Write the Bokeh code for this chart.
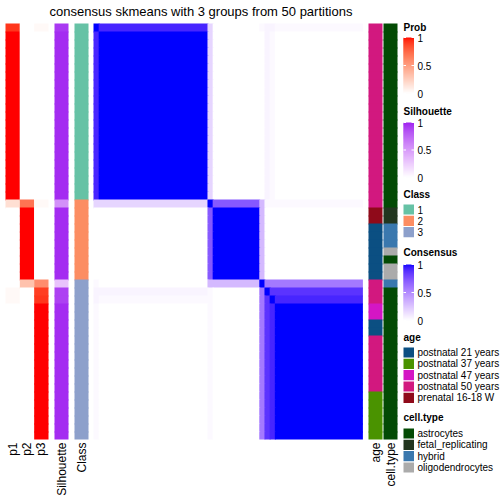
import math
from bokeh.plotting import figure
from bokeh.models import Range1d
from bokeh.embed import file_html
from bokeh.resources import INLINE
from bokeh.core.properties import value

FONT = "Liberation Sans"
TITLE = "consensus skmeans with 3 groups from 50 partitions"

# ---------------- data (rows in display order, 52 samples) ----------------
p1_runs = [(0.92, 1), (1.0, 21), (0.17, 1), (0.0, 10), (0.03, 2), (0.0, 17)]
p2_runs = [(0.0, 22), (0.70, 1), (1.0, 9), (0.32, 1), (0.0, 19)]
p3_runs = [(0.03, 1), (0.0, 21), (0.03, 1), (0.0, 9), (0.58, 1), (0.90, 1), (0.92, 1), (1.0, 17)]
sil_runs = [(0.93, 1), (0.97, 21), (0.55, 1), (0.97, 9), (0.30, 1), (0.90, 2), (0.97, 17)]
class_runs = [(1, 22), (2, 10), (3, 20)]
age_runs = [("postnatal 50 years", 23), ("prenatal 16-18 W", 2), ("postnatal 21 years", 7),
            ("postnatal 50 years", 3), ("postnatal 47 years", 2), ("postnatal 21 years", 2),
            ("postnatal 50 years", 7), ("postnatal 37 years", 6)]
cell_runs = [("astrocytes", 23), ("fetal_replicating", 2), ("hybrid", 3), ("oligodendrocytes", 1),
             ("astrocytes", 1), ("oligodendrocytes", 2), ("hybrid", 1), ("astrocytes", 19)]

age_levels = ["postnatal 21 years", "postnatal 37 years", "postnatal 47 years",
              "postnatal 50 years", "prenatal 16-18 W"]
age_colors = ["#0B4F82", "#4A9300", "#D416C4", "#D2187F", "#8F0A1A"]
cell_levels = ["astrocytes", "fetal_replicating", "hybrid", "oligodendrocytes"]
cell_colors = ["#034A04", "#22361F", "#3A78AE", "#ABABAB"]
class_levels = [1, 2, 3]
class_colors = ["#66C2A5", "#FC8D62", "#8DA0CB"]

# consensus matrix, one string per row; codes -> values
cons_codes = {".": 0.0, "a": 0.025, "b": 0.045, "c": 0.18, "d": 0.30, "e": 0.58,
              "f": 0.72, "g": 0.87, "h": 0.92, "#": 1.0}
R_G1 = "h#### ##### ##### ##### ##|c|..... ....|.|b|a|..... ..... ..... .."
R_G2 = "..... ..... ..... ..... ..|f|##### ####|d|.|.|..... ..... ..... .."
R_G3 = "a.... ..... ..... ..... ..|a|..... ....|e|g|h|##### ##### ##### ##"
cons_rows = [
    "#hhhh hhhhh hhhhh hhhhh hh|c|..... ....|a|b|b|aaaaa aaaaa aaaaa aa",
    R_G1, R_G1, R_G1, R_G1, R_G1, R_G1, R_G1, R_G1, R_G1, R_G1,
    R_G1, R_G1, R_G1, R_G1, R_G1, R_G1, R_G1, R_G1, R_G1, R_G1, R_G1,
    "ccccc ccccc ccccc ccccc cc|#|fffff ffff|d|a|a|aaaaa aaaaa aaaaa aa",
    R_G2, R_G2, R_G2, R_G2, R_G2, R_G2, R_G2, R_G2, R_G2,
    "a.... ..... ..... ..... ..|d|ddddd dddd|#|e|e|eeeee eeeee eeeee ee",
    "bbbbb bbbbb bbbbb bbbbb bb|a|..... ....|e|#|g|ggggg ggggg ggggg gg",
    "baaaa aaaaa aaaaa aaaaa aa|a|..... ....|e|g|#|hhhhh hhhhh hhhhh hh",
    R_G3, R_G3, R_G3, R_G3, R_G3, R_G3, R_G3, R_G3, R_G3, R_G3,
    R_G3, R_G3, R_G3, R_G3, R_G3, R_G3, R_G3,
]


def expand(runs):
    out = []
    for v, n in runs:
        out += [v] * n
    return out


p1, p2, p3, sil = expand(p1_runs), expand(p2_runs), expand(p3_runs), expand(sil_runs)
cls, age, cell = expand(class_runs), expand(age_runs), expand(cell_runs)
cons = [[cons_codes[c] for c in r.replace(" ", "").replace("|", "")] for r in cons_rows]
N = len(cons)
assert all(len(r) == N for r in cons), [len(r) for r in cons]
assert len(p1) == len(p2) == len(p3) == len(sil) == len(cls) == len(age) == len(cell) == N


# ---------------- colour ramps (LAB interpolation) ----------------
def hex2rgb(h):
    h = h.lstrip("#")
    return [int(h[i:i + 2], 16) / 255 for i in (0, 2, 4)]


def rgb2lab(rgb):
    lin = [c / 12.92 if c <= 0.04045 else ((c + 0.055) / 1.055) ** 2.4 for c in rgb]
    r, g, b = lin
    X_ = (0.4124 * r + 0.3576 * g + 0.1805 * b) / 0.95047
    Yv = (0.2126 * r + 0.7152 * g + 0.0722 * b)
    Z = (0.0193 * r + 0.1192 * g + 0.9505 * b) / 1.08883
    f = lambda t: t ** (1 / 3) if t > 0.008856 else 7.787 * t + 16 / 116
    fx, fy, fz = f(X_), f(Yv), f(Z)
    return [116 * fy - 16, 500 * (fx - fy), 200 * (fy - fz)]


def lab2hex(lab):
    L, a, b = lab
    fy = (L + 16) / 116
    fx = fy + a / 500
    fz = fy - b / 200
    finv = lambda t: t ** 3 if t ** 3 > 0.008856 else (t - 16 / 116) / 7.787
    X_, Yv, Z = finv(fx) * 0.95047, finv(fy), finv(fz) * 1.08883
    r = 3.2406 * X_ - 1.5372 * Yv - 0.4986 * Z
    g = -0.9689 * X_ + 1.8758 * Yv + 0.0415 * Z
    bb = 0.0557 * X_ - 0.2040 * Yv + 1.0570 * Z
    out = []
    for c in (r, g, bb):
        c = min(max(c, 0), 1)
        c = 12.92 * c if c <= 0.0031308 else 1.055 * c ** (1 / 2.4) - 0.055
        out.append(int(round(min(max(c, 0), 1) * 255)))
    return "#%02X%02X%02X" % tuple(out)


def ramp(c0, c1):
    l0, l1 = rgb2lab(hex2rgb(c0)), rgb2lab(hex2rgb(c1))

    def f(v):
        v = min(max(v, 0.0), 1.0)
        return lab2hex([a + (b - a) * v for a, b in zip(l0, l1)])
    return f


prob_col = ramp("#FFFFFF", "#FF0000")
sil_col = ramp("#FFFFFF", "#A020F0")
cons_col = ramp("#FFFFFF", "#0000FF")

# ---------------- layout (page pixels) ----------------
HM_L, HM_R, HM_T, ROW_H = 93.0, 362.4, 23.0, 8.0
CW = (HM_R - HM_L) / N
OVX, OVY = 0.9 / CW, 0.9 / ROW_H   # small overlap to avoid anti-aliasing seams


def X(px):
    return (px - HM_L) / CW


def Y(py):
    return (py - HM_T) / ROW_H


p = figure(width=504, height=504, x_range=Range1d(X(0), X(504)), y_range=Range1d(Y(504), Y(0)),
           output_backend="svg", toolbar_location=None, min_border=0,
           x_axis_type=None, y_axis_type=None)
p.grid.visible = False
p.outline_line_color = None
p.background_fill_color = "white"
p.border_fill_color = "white"

# heatmap: consecutive equal cells of a row merged into one rectangle
hx, hy, hw, hh, hc = [], [], [], [], []
for i in range(N):
    j = 0
    while j < N:
        k = j
        while k + 1 < N and cons[i][k + 1] == cons[i][j]:
            k += 1
        extra_w = OVX if k + 1 < N else 0.0
        extra_h = OVY if i + 1 < N else 0.0
        hx.append((j + k + 1 + extra_w) / 2)
        hw.append(k + 1 - j + extra_w)
        hy.append(i + 0.5 + extra_h / 2)
        hh.append(1 + extra_h)
        hc.append(cons_col(cons[i][j]))
        j = k + 1
p.rect(x=hx, y=hy, width=hw, height=hh, fill_color=hc, line_color=None)

rows_y = [i + 0.5 for i in range(N)]


def ann_column(l, r, colors):
    ys = [y + (OVY / 2 if i + 1 < N else 0) for i, y in enumerate(rows_y)]
    hs = [1 + (OVY if i + 1 < N else 0) for i in range(N)]
    p.rect(x=[X((l + r) / 2)] * N, y=ys, width=(r - l) / CW, height=hs,
           fill_color=colors, line_color=None)


ann_column(5.0, 19.33, [prob_col(v) for v in p1])
ann_column(19.33, 33.67, [prob_col(v) for v in p2])
ann_column(33.67, 48.0, [prob_col(v) for v in p3])
ann_column(54.0, 68.0, [sil_col(v) for v in sil])
ann_column(74.0, 88.0, [class_colors[class_levels.index(v)] for v in cls])
ann_column(368.0, 382.0, [age_colors[age_levels.index(v)] for v in age])
ann_column(383.0, 397.0, [cell_colors[cell_levels.index(v)] for v in cell])

# bottom names
names = ["p1", "p2", "p3", "Silhouette", "Class", "age", "cell.type"]
name_px = [12.2, 26.5, 40.8, 61.0, 81.0, 375.0, 390.0]
p.text(x=[X(v) for v in name_px], y=[Y(442)] * len(names), text=names, angle=math.pi / 2,
       text_align="right", text_baseline="middle", text_font=value(FONT),
       text_font_size="12px", text_color="black")

# title
p.text(x=[X(200.5)], y=[Y(10.5)], text=[TITLE], text_align="center", text_baseline="middle",
       text_font=value(FONT), text_font_size="13px", text_color="black")

# ---------------- legends ----------------
LX0, LX1, TX = 403.0, 413.5, 417.0
leg_titles = [("Prob", 27), ("Silhouette", 111), ("Class", 194), ("Consensus", 252),
              ("age", 337), ("cell.type", 417)]
p.text(x=[X(LX0)] * len(leg_titles), y=[Y(t[1]) for t in leg_titles], text=[t[0] for t in leg_titles],
       text_align="left", text_baseline="middle", text_font=value(FONT), text_font_size="10px",
       text_font_style="bold", text_color="black")

tick_labels = ["1", "0.5", "0"]
tick_vals = [1.0, 0.5, 0.0]
for top, bot, fn in [(37, 93, prob_col), (122, 177, sil_col), (264, 320, cons_col)]:
    nseg = 56
    segy, segc, segh = [], [], []
    for k in range(nseg):
        v = 1 - (k + 0.5) / nseg
        ext = OVY if k + 1 < nseg else 0.0
        segy.append(Y(top + (k + 0.5) * (bot - top) / nseg) + ext / 2)
        segh.append((bot - top) / nseg / ROW_H + ext)
        segc.append(fn(v))
    p.rect(x=[X((LX0 + LX1) / 2)] * nseg, y=segy, width=(LX1 - LX0) / CW,
           height=segh, fill_color=segc, line_color=None)
    ty = [Y(bot - v * (bot - top)) for v in tick_vals]
    p.segment(x0=[X(LX0)] * 3, x1=[X(LX0 + 2.5)] * 3, y0=ty, y1=ty, line_color="white", line_width=1)
    p.segment(x0=[X(LX1 - 2.5)] * 3, x1=[X(LX1)] * 3, y0=ty, y1=ty, line_color="white", line_width=1)
    p.text(x=[X(TX)] * 3, y=ty, text=tick_labels, text_align="left", text_baseline="middle",
           text_font=value(FONT), text_font_size="10px", text_color="black")

GRID = 11.34


def discrete_legend(first_y, labels, colors):
    ys = [Y(first_y + k * GRID) for k in range(len(labels))]
    p.rect(x=[X((LX0 + LX1) / 2)] * len(labels), y=ys, width=(LX1 - LX0) / CW, height=(GRID - 1.2) / ROW_H,
           fill_color=colors, line_color=None)
    p.text(x=[X(TX)] * len(labels), y=ys, text=[str(s) for s in labels], text_align="left",
           text_baseline="middle", text_font=value(FONT), text_font_size="10px", text_color="black")


discrete_legend(209, class_levels, class_colors)
discrete_legend(352, age_levels, age_colors)
discrete_legend(433, cell_levels, cell_colors)

open("out.html", "w").write(file_html(p, INLINE))
